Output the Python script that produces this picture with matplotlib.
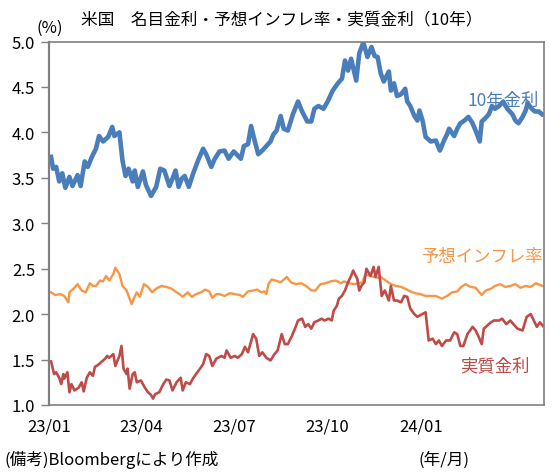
import numpy as np
import pandas as pd
import matplotlib
matplotlib.use("Agg")
import matplotlib.pyplot as plt
import matplotlib.dates as mdates

plt.rcParams['font.family'] = ['Noto Sans CJK JP', 'DejaVu Sans']

# ---- data (days since 2023-01-01, values in %) ----
nominal_days = [2, 4, 7, 10, 13, 16, 20, 23, 28, 31, 35, 38, 42, 46, 49, 53, 58, 62, 64, 69, 72, 75, 78, 82, 84, 87,
                92, 95, 100, 105, 109, 113, 118, 121, 124, 127, 130, 133, 137, 141, 146, 151, 154, 159, 162, 167, 172,
                176, 181, 188, 191, 195, 198, 201, 205, 209, 213, 217, 220, 223, 227, 230, 234, 239, 244, 248, 253,
                257, 260, 264, 269, 273, 278, 283, 287, 290, 293, 296, 301, 304, 308, 312, 316, 319, 322, 325, 328,
                333, 335, 338, 341, 345, 349, 351, 354, 358, 361, 363, 366, 369, 374, 379, 383, 387, 390, 392, 397,
                400, 403, 407, 411, 415, 418, 422, 424, 427, 431, 434, 437, 441, 445, 449, 454, 457, 460, 464, 467,
                469, 473, 476, 480, 483]
nominal = [3.73, 3.60, 3.62, 3.46, 3.55, 3.39, 3.51, 3.41, 3.53, 3.41, 3.68, 3.62, 3.73, 3.82, 3.96, 3.90, 3.95, 4.06,
           3.96, 4.00, 3.69, 3.52, 3.60, 3.46, 3.58, 3.40, 3.57, 3.42, 3.30, 3.40, 3.60, 3.58, 3.41, 3.49, 3.58, 3.40,
           3.49, 3.52, 3.40, 3.54, 3.69, 3.82, 3.76, 3.62, 3.70, 3.79, 3.80, 3.71, 3.79, 3.71, 3.85, 3.87, 4.07, 3.93,
           3.76, 3.80, 3.85, 3.90, 3.98, 4.02, 4.18, 4.04, 4.02, 4.20, 4.34, 4.23, 4.12, 4.12, 4.26, 4.29, 4.26, 4.34,
           4.46, 4.54, 4.59, 4.79, 4.68, 4.81, 4.57, 4.87, 4.99, 4.83, 4.94, 4.84, 4.83, 4.65, 4.56, 4.67, 4.46, 4.54,
           4.40, 4.42, 4.48, 4.34, 4.29, 4.18, 4.13, 4.24, 4.13, 3.95, 3.90, 3.91, 3.80, 3.91, 3.98, 4.04, 3.96, 4.04,
           4.10, 4.13, 4.17, 4.10, 4.02, 3.90, 4.12, 4.15, 4.20, 4.29, 4.26, 4.29, 4.34, 4.26, 4.20, 4.13, 4.10, 4.17,
           4.24, 4.32, 4.26, 4.23, 4.23, 4.20]

bei_days = [2, 6, 11, 15, 19, 20, 24, 28, 32, 36, 40, 43, 46, 50, 53, 56, 59, 63, 65, 69, 72, 76, 78, 81, 83, 86, 89,
            93, 97, 101, 105, 110, 115, 120, 125, 128, 131, 136, 140, 144, 149, 153, 157, 160, 164, 167, 172, 177,
            182, 187, 190, 195, 200, 204, 208, 211, 213, 215, 218, 222, 227, 233, 237, 242, 247, 252, 257, 261, 266,
            271, 276, 281, 286, 289, 294, 299, 304, 307, 310, 315, 318, 323, 325, 330, 335, 340, 345, 349, 354, 359,
            364, 369, 374, 379, 385, 390, 395, 400, 404, 408, 413, 418, 424, 428, 433, 437, 442, 447, 452, 457, 462,
            467, 472, 477, 481, 484]
bei = [2.24, 2.21, 2.22, 2.20, 2.13, 2.24, 2.28, 2.33, 2.26, 2.24, 2.34, 2.31, 2.31, 2.37, 2.36, 2.42, 2.37, 2.44,
       2.51, 2.44, 2.31, 2.26, 2.20, 2.11, 2.17, 2.24, 2.19, 2.33, 2.30, 2.24, 2.28, 2.31, 2.30, 2.28, 2.24, 2.22,
       2.19, 2.24, 2.19, 2.22, 2.24, 2.27, 2.25, 2.18, 2.22, 2.22, 2.20, 2.23, 2.22, 2.21, 2.19, 2.25, 2.26, 2.27,
       2.24, 2.25, 2.22, 2.33, 2.38, 2.37, 2.35, 2.41, 2.35, 2.33, 2.34, 2.31, 2.26, 2.26, 2.33, 2.34, 2.36, 2.37,
       2.34, 2.36, 2.34, 2.33, 2.34, 2.35, 2.44, 2.42, 2.41, 2.40, 2.41, 2.37, 2.33, 2.31, 2.30, 2.28, 2.25, 2.23,
       2.22, 2.20, 2.20, 2.20, 2.17, 2.20, 2.24, 2.25, 2.30, 2.33, 2.30, 2.29, 2.21, 2.26, 2.28, 2.31, 2.33, 2.30,
       2.31, 2.33, 2.29, 2.31, 2.30, 2.34, 2.32, 2.31]

real_days = [2, 5, 7, 10, 12, 14, 15, 18, 20, 22, 25, 29, 32, 34, 37, 40, 43, 45, 48, 51, 55, 57, 59, 63, 65, 69, 71,
             73, 76, 77, 79, 82, 84, 86, 90, 94, 97, 100, 102, 104, 108, 112, 115, 118, 121, 125, 129, 131, 134, 138,
             141, 144, 148, 151, 154, 157, 160, 164, 169, 172, 174, 178, 182, 185, 189, 192, 195, 200, 203, 206, 209,
             213, 217, 221, 224, 228, 231, 234, 238, 241, 244, 248, 251, 254, 257, 260, 264, 267, 270, 274, 277, 279,
             282, 284, 287, 290, 293, 296, 298, 302, 304, 306, 309, 311, 315, 318, 320, 323, 326, 329, 333, 335, 338,
             341, 345, 348, 351, 354, 358, 361, 364, 369, 372, 376, 379, 382, 385, 389, 393, 397, 400, 403, 406, 410,
             415, 418, 421, 424, 426, 429, 433, 436, 441, 444, 448, 452, 455, 459, 464, 468, 472, 475, 478, 481, 484]
real = [1.48, 1.34, 1.36, 1.30, 1.23, 1.34, 1.29, 1.36, 1.14, 1.23, 1.16, 1.19, 1.25, 1.15, 1.30, 1.36, 1.32, 1.42,
        1.44, 1.47, 1.51, 1.54, 1.52, 1.56, 1.43, 1.54, 1.65, 1.40, 1.34, 1.40, 1.18, 1.34, 1.36, 1.25, 1.27, 1.19,
        1.14, 1.11, 1.07, 1.12, 1.14, 1.23, 1.28, 1.27, 1.16, 1.25, 1.30, 1.16, 1.25, 1.23, 1.29, 1.34, 1.40, 1.45,
        1.56, 1.54, 1.43, 1.51, 1.54, 1.52, 1.60, 1.52, 1.54, 1.52, 1.56, 1.64, 1.58, 1.78, 1.73, 1.54, 1.58, 1.52,
        1.49, 1.56, 1.60, 1.78, 1.67, 1.67, 1.76, 1.84, 1.93, 1.95, 1.86, 1.89, 1.84, 1.91, 1.93, 1.95, 1.93, 1.95,
        1.93, 2.04, 2.09, 2.17, 2.20, 2.26, 2.35, 2.42, 2.48, 2.39, 2.26, 2.31, 2.35, 2.50, 2.42, 2.52, 2.41, 2.52,
        2.20, 2.26, 2.15, 2.31, 2.15, 2.15, 2.13, 2.20, 2.19, 2.06, 2.00, 1.97, 1.99, 2.02, 1.71, 1.73, 1.67, 1.71,
        1.65, 1.71, 1.71, 1.80, 1.78, 1.65, 1.65, 1.78, 1.86, 1.82, 1.75, 1.67, 1.84, 1.87, 1.91, 1.93, 1.93, 1.95,
        1.89, 1.93, 1.89, 1.84, 1.82, 1.97, 2.00, 1.93, 1.86, 1.91, 1.87]

tick_dates = ['2023-01-01', '2023-04-01', '2023-07-01', '2023-10-01', '2024-01-01']
tick_labels = ['23/01', '23/04', '23/07', '23/10', '24/01']
y_ticks = [1.0, 1.5, 2.0, 2.5, 3.0, 3.5, 4.0, 4.5, 5.0]

base = pd.Timestamp('2023-01-01')


def to_dates(days):
    return base + pd.to_timedelta(days, unit='D')


BLUE = '#4A7EBB'
ORANGE = '#F79646'
RED = '#BE4B48'

fig = plt.figure(figsize=(5.57, 4.77), dpi=100)
ax = fig.add_axes([49 / 557, 1 - 406 / 477, (544 - 49) / 557, (406 - 42.5) / 477])

ax.plot(to_dates(nominal_days), nominal, color=BLUE, lw=3.3, solid_joinstyle='round')
ax.plot(to_dates(bei_days), bei, color=ORANGE, lw=1.7)
ax.plot(to_dates(real_days), real, color=RED, lw=1.9)

ax.set_xlim(base, base + pd.Timedelta(days=485))
ax.set_ylim(1.0, 5.0)
ax.set_yticks(y_ticks)
ax.set_yticklabels([f'{v:.1f}' for v in y_ticks], fontsize=12)
ax.set_xticks(pd.to_datetime(tick_dates))
ax.set_xticklabels(tick_labels, fontsize=12)
ax.tick_params(axis='x', length=0, pad=9)
ax.tick_params(axis='y', length=6, width=1, color='#808080', pad=4)

for s in ax.spines.values():
    s.set_color('#808080')
    s.set_linewidth(1.2)
ax.spines['left'].set_linewidth(1.6)

fig.text(0.506, 0.958, '米国　名目金利・予想インフレ率・実質金利（10年）', ha='center', va='center', fontsize=12)
fig.text(50 / 557, 1 - 28 / 477, '(%)', ha='center', va='center', fontsize=12)

ax.text(0.99, 0.84, '10年金利', transform=ax.transAxes, ha='right', va='center', color=BLUE, fontsize=12.5)
ax.text(0.998, 0.41, '予想インフレ率', transform=ax.transAxes, ha='right', va='center', color=ORANGE, fontsize=12.5)
ax.text(0.97, 0.11, '実質金利', transform=ax.transAxes, ha='right', va='center', color=RED, fontsize=12.5)

fig.text(5 / 557, 1 - 460 / 477, '(備考)Bloombergにより作成', ha='left', va='center', fontsize=12)
fig.text(444 / 557, 1 - 460 / 477, '(年/月)', ha='center', va='center', fontsize=12)

fig.savefig('out.png', dpi=100)
